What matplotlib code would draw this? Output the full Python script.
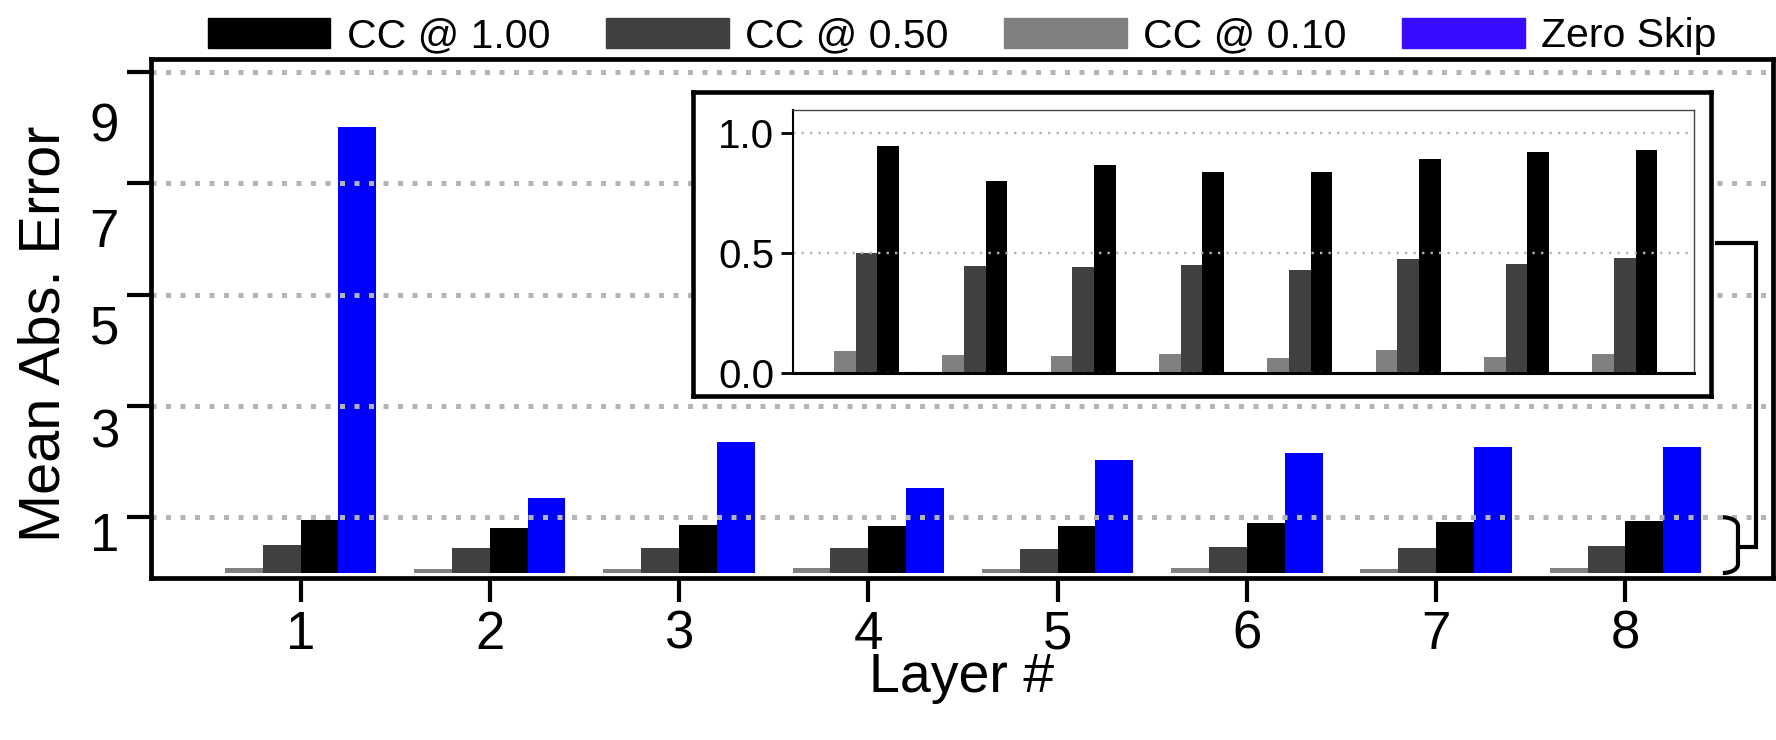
import numpy as np
import matplotlib
matplotlib.use('Agg')
import matplotlib.pyplot as plt
from matplotlib.patches import Patch
from matplotlib.transforms import ScaledTranslation

plt.rcParams['font.family'] = ['Liberation Sans', 'DejaVu Sans']

# data
layers = [1, 2, 3, 4, 5, 6, 7, 8]
cc_100 = [0.944, 0.80, 0.865, 0.836, 0.839, 0.892, 0.922, 0.931]
cc_050 = [0.50, 0.447, 0.443, 0.451, 0.429, 0.474, 0.454, 0.481]
cc_010 = [0.093, 0.074, 0.071, 0.081, 0.064, 0.097, 0.067, 0.081]
zero_skip = [8.01, 1.34, 2.35, 1.52, 2.03, 2.15, 2.27, 2.27]

series_names = ['CC @ 1.00', 'CC @ 0.50', 'CC @ 0.10', 'Zero Skip']
yticks_main = [1, 3, 5, 7, 9]
yticks_inset = [0.0, 0.5, 1.0]

c_black = '#000000'
c_dark = '#404040'
c_light = '#808080'
c_blue = '#0000ff'
c_grid = '#b4b4b4'

fig = plt.figure(figsize=(17.76, 7.4), dpi=100)

# main axes
ax = fig.add_axes([151 / 1776, 1 - 578 / 740, (1773 - 151) / 1776, (578 - 59) / 740])
x = np.array(layers, dtype=float)
w = 0.2
ax.bar(x - 1.5 * w, cc_010, w, color=c_light)
ax.bar(x - 0.5 * w, cc_050, w, color=c_dark)
ax.bar(x + 0.5 * w, cc_100, w, color=c_black)
ax.bar(x + 1.5 * w, zero_skip, w, color=c_blue)

ax.set_xlim(0.21, 8.78)
ax.set_ylim(-0.09, 9.23)
ax.set_xticks(layers)
ax.set_yticks(yticks_main)
ax.set_yticklabels([str(t) for t in yticks_main])
ax.grid(axis='y', color=c_grid, linewidth=3.6, linestyle=(0, (1, 1.9)))
for s in ax.spines.values():
    s.set_linewidth(3.4)
ax.tick_params(axis='both', length=17, width=3, labelsize=38, pad=6)
ax.set_xlabel('Layer #', fontsize=40, labelpad=-6)
ax.set_ylabel('Mean Abs. Error', fontsize=41.5)
ax.yaxis.set_label_coords(-0.049, 0.47)

# y tick labels sit below their ticks in the original
label_drop = [10, 16, 21, 32, 36]
for lab, d in zip(ax.get_yticklabels(), label_drop):
    lab.set_transform(lab.get_transform() + ScaledTranslation(0, -d / 72, fig.dpi_scale_trans))

# box around the inset
bx0, bx1, by0, by1 = 693 / 1776, 1711 / 1776, 1 - 396 / 740, 1 - 92 / 740
box = fig.add_axes([bx0, by0, bx1 - bx0, by1 - by0], zorder=2)
box.set_xticks([])
box.set_yticks([])
for s in box.spines.values():
    s.set_linewidth(3.3)

# inset
ins = fig.add_axes([793 / 1776, 1 - 373 / 740, (1694 - 793) / 1776, (373 - 110) / 740], zorder=3)
ins.bar(x - 1.5 * w, cc_010, w, color=c_light)
ins.bar(x - 0.5 * w, cc_050, w, color=c_dark)
ins.bar(x + 0.5 * w, cc_100, w, color=c_black)
ins.set_xlim(0.22, 8.54)
ins.set_ylim(0, 1.096)
ins.set_xticks([])
ins.set_yticks(yticks_inset)
ins.set_yticklabels(['%.1f' % t for t in yticks_inset])
ins.grid(axis='y', color=c_grid, linewidth=1.7, linestyle=(0, (1, 2.6)))
ins.tick_params(axis='y', length=8.6, width=2, labelsize=29, pad=5)
ins.spines['left'].set_linewidth(1.5)
ins.spines['bottom'].set_linewidth(2.2)
ins.spines['top'].set_linewidth(1)
ins.spines['right'].set_linewidth(1)
ins.spines['top'].set_color('#444444')
ins.spines['right'].set_color('#444444')

# brace around 0..1 and connector to the inset box
xb0, xb1, xv = 8.515, 8.595, 8.692
ymid = 0.47
t = np.linspace(0, 1, 20)
top_x = xb0 + (xb1 - xb0) * np.sin(t * np.pi / 2)
top_y = 1.0 - 0.16 * (1 - np.cos(t * np.pi / 2))
bx = np.concatenate([top_x, [xb1, xb1], top_x[::-1]])
by = np.concatenate([top_y, [ymid, ymid], -0.03 + (1.03 - top_y[::-1])])
ax.plot(bx, by, color='black', lw=3, clip_on=False, solid_capstyle='butt')
yconn = (573 - 244) / 55.6
ax.plot([xb1, xv, xv, 8.485], [ymid, ymid, yconn, yconn], color='black', lw=3,
        clip_on=False, solid_joinstyle='miter')

# legend
handles = [Patch(color=c_black), Patch(color=c_dark), Patch(color=c_light), Patch(color='#3a0cff')]
fig.legend(handles, series_names, loc='center', bbox_to_anchor=(0.5417, 0.951), ncol=4,
           frameon=False, fontsize=29.5, handlelength=3.0, handleheight=0.72,
           handletextpad=0.4, columnspacing=1.35, borderpad=0)

fig.savefig('out.png', dpi=100)
